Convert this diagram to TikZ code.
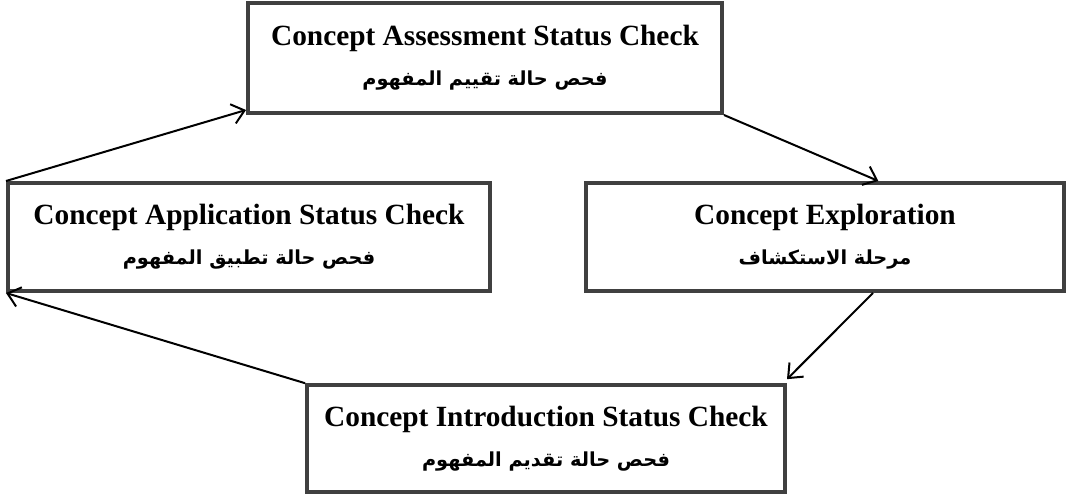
\documentclass[tikz,border=0pt]{standalone}
\usepackage{fontspec}
\setmainfont{Liberation Serif}
\newfontfamily\arabicfont[Script=Arabic]{DejaVu Sans}
\TeXXeTstate=1
\usetikzlibrary{arrows.meta}
\definecolor{boxgray}{HTML}{404040}
\newcommand{\ar}[1]{{\arabicfont\fontsize{14.5}{30}\selectfont\beginR #1\endR}}
\begin{document}
\begin{tikzpicture}[x=0.75pt,y=-0.75pt]
\tikzstyle{every node}=[font=\fontsize{22}{30}\selectfont\bfseries]
\tikzstyle{stage}=[draw=boxgray, line width=3pt, minimum width=358.5pt, minimum height=81pt, align=center, inner sep=0pt]
\tikzstyle{flow}=[-{Straight Barb[length=9pt,width=15pt]}, line width=1.5pt]
\useasboundingbox (0,0) rectangle (1068,497);

% four stages
\node[stage, minimum width=355.5pt, minimum height=82.5pt] (assess) at (485,58)
  {Concept Assessment Status Check\\ \ar{فحص حالة تقييم المفهوم}};
\node[stage, minimum width=361.5pt] (apply) at (249,237)
  {Concept Application Status Check\\ \ar{فحص حالة تطبيق  المفهوم}};
\node[stage] (explore) at (825,237)
  {Concept Exploration\\ \ar{مرحلة الاستكشاف}};
\node[stage, minimum height=80pt] (intro) at (546,438.5)
  {Concept Introduction Status Check\\ \ar{فحص حالة تقديم المفهوم}};

% cycle
\draw[flow] (apply.north west) -- ([yshift=3.75pt]assess.south west);
\draw[flow] (assess.south east) -- ([xshift=40pt]explore.north);
\draw[flow] ([xshift=36pt]explore.south) -- ([yshift=3pt]intro.north east);
\draw[flow] (intro.north west) -- (apply.south west);

\end{tikzpicture}
\end{document}
